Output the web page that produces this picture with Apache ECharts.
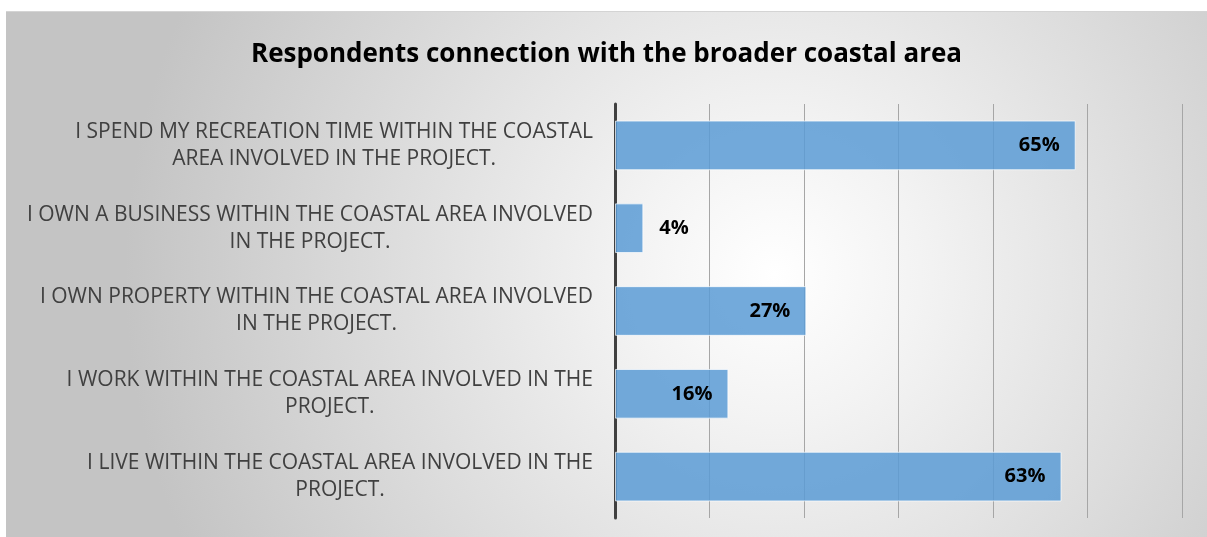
<!DOCTYPE html>
<html>
<head>
<meta charset="utf-8">
<script src="https://cdn.jsdelivr.net/npm/echarts@6/dist/echarts.min.js"></script>
<style>
  html, body { margin: 0; padding: 0; background: #fff; }
  #panel {
    position: absolute; left: 6px; top: 11px; width: 1201px; height: 526px;
    border-top: 1px solid #d4d4d4; box-sizing: border-box;
    background: radial-gradient(circle at 64% 50%, #ffffff 0%, #f3f3f3 18%, #c4c4c4 80%);
  }
</style>
</head>
<body>
<div id="panel"></div>
<script>
// categories top to bottom (line breaks as in the picture)
const categories = [
  'I SPEND MY RECREATION TIME WITHIN THE COASTAL\nAREA INVOLVED IN THE PROJECT.',
  'I OWN A BUSINESS WITHIN THE COASTAL AREA INVOLVED\nIN THE PROJECT.',
  'I OWN PROPERTY WITHIN THE COASTAL AREA INVOLVED\nIN THE PROJECT.',
  'I WORK WITHIN THE COASTAL AREA INVOLVED IN THE\nPROJECT.',
  'I LIVE WITHIN THE COASTAL AREA INVOLVED IN THE\nPROJECT.'
]
const shares = [65, 4, 27, 16, 63]
const axisMax = 80

const chart = echarts.init(document.getElementById('panel'))

const option = {
  backgroundColor: 'transparent',
  title: {
    text: 'Respondents connection with the broader coastal area',
    left: 'center',
    top: 25,
    textStyle: { fontFamily: 'Open Sans', fontWeight: 'bold', fontSize: 26, color: '#000' }
  },
  grid: { left: 609, right: 25, top: 92, bottom: 19 },
  xAxis: {
    type: 'value',
    min: 0,
    max: axisMax,
    interval: axisMax / 6,
    axisLine: { show: false },
    axisTick: { show: false },
    axisLabel: { show: false },
    splitLine: { lineStyle: { color: '#a6a6a6', width: 1 } }
  },
  yAxis: {
    type: 'category',
    inverse: true,
    data: categories,
    axisLine: { lineStyle: { color: '#404040', width: 3 } },
    axisTick: { show: false },
    axisLabel: {
      margin: 22,
      formatter: v => v.split('\n').map(s => '{c|' + s + '}').join('\n'),
      rich: {
        c: { align: 'center', fontFamily: 'Open Sans', fontSize: 21, color: '#404040', lineHeight: 27 }
      }
    }
  },
  series: [{
    type: 'bar',
    barWidth: '60%',
    data: shares.map(v => ({
      value: v,
      label: v < 10 ? { position: 'right', distance: 16 } : {}
    })),
    itemStyle: {
      color: 'rgba(91,155,213,0.85)',
      borderColor: 'rgba(255,255,255,0.7)',
      borderWidth: 1
    },
    label: {
      show: true,
      position: 'insideRight',
      distance: 16,
      formatter: p => p.value + '%',
      fontFamily: 'Open Sans',
      fontWeight: 'bold',
      fontSize: 20,
      color: '#000'
    }
  }]
}

chart.setOption(option)
window.addEventListener('resize', () => chart.resize())
</script>
</body>
</html>
